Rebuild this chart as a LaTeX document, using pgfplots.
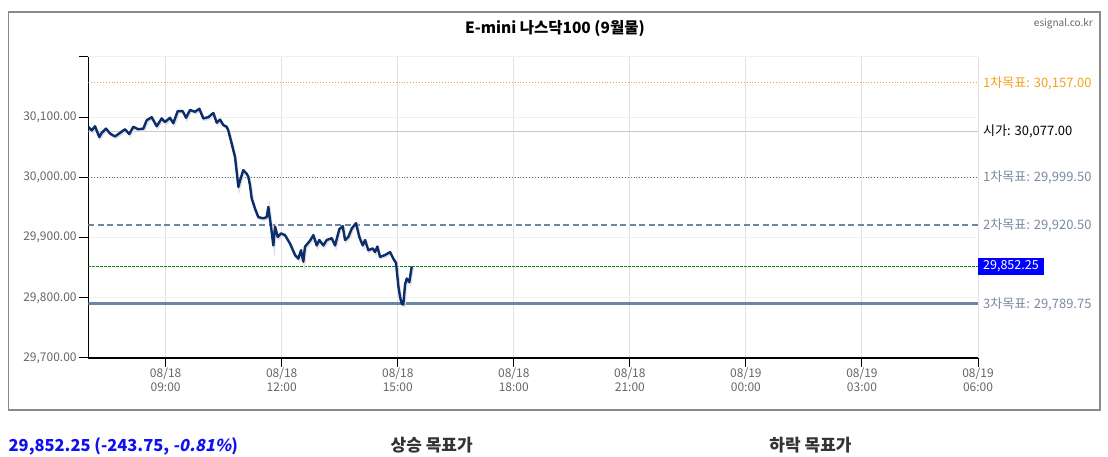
\documentclass[border=0pt]{standalone}
\usepackage{pgfplots}
\usepackage{pgfplotstable}
\pgfplotsset{compat=1.18}
\usepackage{fontspec}
\setmainfont{Noto Sans CJK KR}
\newfontfamily\slantfont[FakeSlant=0.2]{Noto Sans CJK KR}
\definecolor{navy}{HTML}{0B2E6B}
\definecolor{ticklab}{HTML}{666666}
\definecolor{framec}{HTML}{8A8A8A}
\definecolor{vgrid}{HTML}{E2E2E2}
\definecolor{hgrid}{HTML}{F0F0F0}
\definecolor{orangeT}{HTML}{F5A21E}
\definecolor{orangeL}{HTML}{E8A030}
\definecolor{gblueT}{HTML}{7A8AA4}
\definecolor{gblueL}{HTML}{5B6B8C}
\definecolor{dashL}{HTML}{6D86A4}
\definecolor{greenL}{HTML}{138A13}
\definecolor{openL}{HTML}{C8C8C8}
\definecolor{boxblue}{HTML}{0000FF}
\definecolor{bottomblue}{HTML}{1010F0}
\definecolor{darkT}{HTML}{333333}

\pgfplotstableread{
h v
7.000 30084
7.088 30078
7.173 30085
7.284 30067
7.346 30074
7.458 30081
7.561 30073
7.690 30068
7.820 30074
7.949 30080
8.060 30072
8.163 30084
8.293 30080
8.422 30081
8.510 30095
8.639 30100
8.768 30085
8.898 30098
8.983 30092
9.112 30099
9.198 30090
9.311 30110
9.441 30110
9.526 30099
9.629 30112
9.759 30109
9.870 30114
9.973 30098
10.102 30100
10.232 30107
10.319 30091
10.405 30096
10.490 30087
10.578 30084
10.619 30078
10.707 30056
10.793 30034
10.879 29984
10.923 29995
11.007 30012
11.095 30006
11.137 30001
11.180 29987
11.224 29965
11.310 29948
11.395 29934
11.524 29932
11.612 29934
11.654 29951
11.724 29918
11.783 29887
11.827 29918
11.897 29901
11.982 29907
12.086 29904
12.215 29890
12.344 29871
12.429 29865
12.499 29879
12.558 29860
12.602 29885
12.732 29895
12.817 29904
12.905 29887
12.972 29896
13.076 29887
13.163 29896
13.293 29899
13.378 29887
13.489 29914
13.577 29919
13.637 29896
13.722 29901
13.810 29915
13.921 29924
14.006 29901
14.094 29887
14.154 29896
14.239 29879
14.353 29882
14.412 29876
14.472 29885
14.541 29868
14.671 29871
14.800 29876
14.885 29865
14.955 29858
15.014 29820
15.057 29802
15.102 29790
15.144 29789
15.188 29822
15.232 29832
15.299 29826
15.361 29852
}\pricedata

\begin{document}
\begin{tikzpicture}
\fill[white] (0pt,0pt) rectangle (1108pt,457pt);
\path[use as bounding box] (0pt,0pt) rectangle (1108pt,457pt);
\draw[color=framec, line width=1.5pt] (8.5pt,47pt) rectangle (1100pt,445pt);
\node[font=\fontsize{15.5}{18}\selectfont\bfseries, anchor=center, inner sep=0] at (555pt,428.5pt) {E-mini 나스닥100 (9월물)};
\node[font=\fontsize{10}{11}\selectfont, text=ticklab, anchor=east, inner sep=0] at (1093pt,433pt) {esignal.co.kr};

\begin{axis}[
  at={(88.3pt,99pt)}, anchor=south west, scale only axis,
  width=889.7pt, height=301pt,
  xmin=7, xmax=30, ymin=29700, ymax=30200,
  scaled y ticks=false, scaled x ticks=false,
  axis x line=bottom, axis y line=left,
  axis line style={-, line width=1.2pt, black},
  xtick={9,12,15,18,21,24,27,30},
  xticklabels={{08/18\\09:00},{08/18\\12:00},{08/18\\15:00},{08/18\\18:00},{08/18\\21:00},{08/19\\00:00},{08/19\\03:00},{08/19\\06:00}},
  xticklabel style={align=center, font=\fontsize{12}{14}\selectfont, text=ticklab, inner sep=1pt},
  ytick={29700,29800,29900,30000,30100,30200},
  yticklabels={{29,700.00},{29,800.00},{29,900.00},{30,000.00},{30,100.00},{}},
  yticklabel style={font=\fontsize{12}{14}\selectfont, text=ticklab, inner sep=2.5pt},
  tick align=outside, major tick length=9pt,
  tick style={black, line width=1pt},
  xmajorgrids, ymajorgrids,
  x grid style={color=vgrid, line width=1pt},
  y grid style={color=hgrid, line width=1pt},
  clip mode=individual,
]
\addplot[orangeL, line width=0.9pt, dotted, forget plot] coordinates {(7,30157) (30,30157)};
\addplot[openL, line width=1pt, forget plot] coordinates {(7,30077) (30,30077)};
\addplot[gblueL, line width=0.9pt, dotted, forget plot] coordinates {(7,29999.5) (30,29999.5)};
\addplot[dashL, line width=1.8pt, dash pattern=on 6pt off 3.5pt, forget plot] coordinates {(7,29920.5) (30,29920.5)};
\addplot[greenL, line width=0.9pt, dash pattern=on 2.5pt off 1.5pt, forget plot] coordinates {(7,29852.25) (30,29852.25)};
\addplot[dashL, line width=3pt, forget plot] coordinates {(7,29789.75) (30,29789.75)};
\addplot[black!12, line width=2.4pt, xshift=1pt, yshift=-1.5pt, forget plot] table[x=h, y=v] {\pricedata};
\addplot[navy, line width=2.4pt, line join=round, forget plot] table[x=h, y=v] {\pricedata};

\node[anchor=west, xshift=5pt, text=orangeT, font=\fontsize{13}{15}\selectfont, inner sep=0] at (axis cs:30,30157) {1차목표: 30,157.00};
\node[anchor=west, xshift=5pt, text=black, font=\fontsize{13}{15}\selectfont, inner sep=0] at (axis cs:30,30077) {시가: 30,077.00};
\node[anchor=west, xshift=5pt, text=gblueT, font=\fontsize{13}{15}\selectfont, inner sep=0] at (axis cs:30,29999.5) {1차목표: 29,999.50};
\node[anchor=west, xshift=5pt, text=gblueT, font=\fontsize{13}{15}\selectfont, inner sep=0] at (axis cs:30,29920.5) {2차목표: 29,920.50};
\node[anchor=west, fill=boxblue, text=white, font=\fontsize{12.5}{14}\selectfont, inner xsep=5pt, inner ysep=0pt, minimum height=17pt] at (axis cs:30,29852.25) {29,852.25};
\node[anchor=west, xshift=5pt, text=gblueT, font=\fontsize{13}{15}\selectfont, inner sep=0] at (axis cs:30,29789.75) {3차목표: 29,789.75};
\end{axis}

\node[anchor=west, inner sep=0, text=bottomblue, font=\fontsize{16.5}{19}\selectfont\bfseries] at (8.5pt,11pt) {29,852.25 (-243.75, {\slantfont\bfseries -0.81\%})};
\node[anchor=center, inner sep=0, text=darkT, font=\fontsize{17}{19}\selectfont\bfseries] at (431.7pt,11.5pt) {상승 목표가};
\node[anchor=center, inner sep=0, text=darkT, font=\fontsize{17}{19}\selectfont\bfseries] at (810.5pt,11.5pt) {하락 목표가};
\end{tikzpicture}
\end{document}
